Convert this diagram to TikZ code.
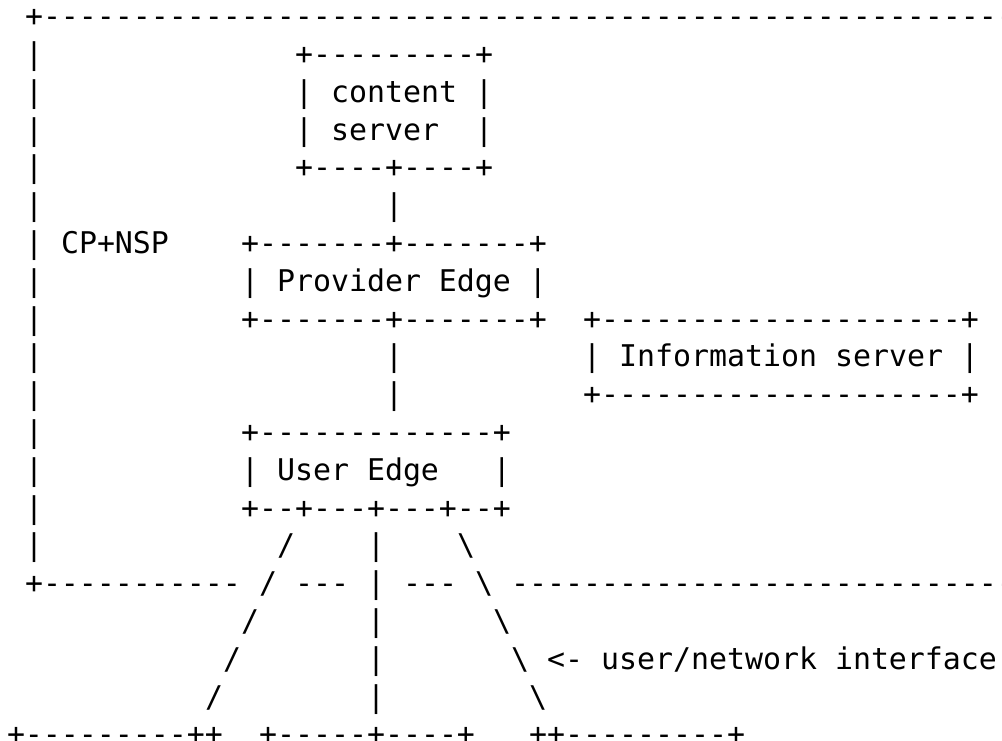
\documentclass[tikz,border=0pt]{standalone}
\usepackage{fontspec}
\setmonofont{DejaVu Sans Mono}
\newcommand\bsl{\textbackslash}
\tikzset{
  asc/.style={anchor=base west, inner sep=0pt, outer sep=0pt, text=black,
    font=\fontsize{29.9}{37.8}\selectfont\ttfamily},
}
% column c, row r -> cell left edge / baseline in reference pixels
\newcommand\seg[4]{\node[asc] (#1) at ({7+18*#2},{26.7+37.8*(#3-1)}) {#4};}
\begin{document}
\begin{tikzpicture}[x=1pt,y=-1pt]
\useasboundingbox (0,0) rectangle (1002,741);
\clip (0,0) rectangle (1002,741);
% row 1
\seg{r1}{1}{1}{+--------------------------------------------------------}
% content server
\seg{b2}{1}{2}{|}\seg{cs1}{16}{2}{+---------+}
\seg{b3}{1}{3}{|}\seg{cs2}{16}{3}{| content |}
\seg{b4}{1}{4}{|}\seg{cs3}{16}{4}{| server~~|}
\seg{b5}{1}{5}{|}\seg{cs4}{16}{5}{+----+----+}
\seg{b6}{1}{6}{|}\seg{l6}{21}{6}{|}
% provider edge
\seg{b7}{1}{7}{|}\seg{cpnsp}{3}{7}{CP+NSP}\seg{pe1}{13}{7}{+-------+-------+}
\seg{b8}{1}{8}{|}\seg{pe2}{13}{8}{| Provider Edge |}
\seg{b9}{1}{9}{|}\seg{pe3}{13}{9}{+-------+-------+}\seg{is1}{32}{9}{+--------------------+}
\seg{b10}{1}{10}{|}\seg{l10}{21}{10}{|}\seg{is2}{32}{10}{| Information server |}
\seg{b11}{1}{11}{|}\seg{l11}{21}{11}{|}\seg{is3}{32}{11}{+--------------------+}
% user edge
\seg{b12}{1}{12}{|}\seg{ue1}{13}{12}{+-------------+}
\seg{b13}{1}{13}{|}\seg{ue2}{13}{13}{| User Edge~~~|}
\seg{b14}{1}{14}{|}\seg{ue3}{13}{14}{+--+---+---+--+}
\seg{b15}{1}{15}{|}\seg{s15}{15}{15}{/}\seg{v15}{20}{15}{|}\seg{k15}{25}{15}{\bsl}
% lower border
\seg{r16a}{1}{16}{+-----------}
\seg{s16}{14}{16}{/}\seg{d16a}{16}{16}{---}\seg{v16}{20}{16}{|}\seg{d16b}{22}{16}{---}
\seg{k16}{26}{16}{\bsl}\seg{r16b}{28}{16}{------------------------------}
% links
\seg{s17}{13}{17}{/}\seg{v17}{20}{17}{|}\seg{k17}{27}{17}{\bsl}
\seg{s18}{12}{18}{/}\seg{v18}{20}{18}{|}\seg{k18}{28}{18}{\bsl}
\seg{uni}{30}{18}{<- user/network interface}
\seg{s19}{11}{19}{/}\seg{v19}{20}{19}{|}\seg{k19}{29}{19}{\bsl}
% bottom boxes
\seg{h1}{0}{20}{+---------++}
\seg{h2}{14}{20}{+-----+----+}
\seg{h3}{29}{20}{++---------+}
\end{tikzpicture}
\end{document}
